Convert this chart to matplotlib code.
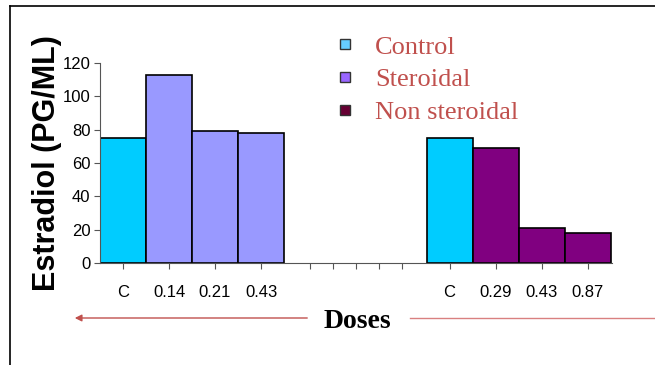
import numpy as np
import matplotlib
matplotlib.use("Agg")
import matplotlib.pyplot as plt
from matplotlib.lines import Line2D
from matplotlib.patches import FancyArrowPatch

# data
ster_labels = ['C', '0.14', '0.21', '0.43']
ster_values = [75, 113, 79, 78]
nonster_labels = ['C', '0.29', '0.43', '0.87']
nonster_values = [75, 69, 21, 18]
legend_labels = ['Control', 'Steroidal', 'Non steroidal']

c_control = '#00CCFF'
c_ster = '#9999FF'
c_nonster = '#800080'

fig = plt.figure(figsize=(6.55, 3.65), dpi=100)
ax = fig.add_axes([100/655, 1-263/365, 512/655, 200/365])

x_left = np.arange(4)
x_right = np.arange(4) + 7.1
cols_left = [c_control] + [c_ster]*3
cols_right = [c_control] + [c_nonster]*3
ax.bar(x_left, ster_values, width=1.0, color=cols_left, edgecolor='black', linewidth=1.2)
ax.bar(x_right, nonster_values, width=1.0, color=cols_right, edgecolor='black', linewidth=1.2)

ax.set_xlim(-0.5, 10.63)
ax.set_ylim(0, 120)
ax.set_yticks(range(0, 121, 20))
ticks = list(x_left) + [4.07, 4.57, 5.07, 5.57, 6.07] + list(x_right)
labels = ster_labels + [''] * 5 + nonster_labels
ax.set_xticks(ticks)
ax.set_xticklabels(labels)
ax.tick_params(axis='x', length=4, width=0.8, color='#555555', pad=12, labelsize=12)
ax.tick_params(axis='y', length=4, width=0.8, color='#555555', pad=3, labelsize=12)
for lab in ax.get_xticklabels() + ax.get_yticklabels():
    lab.set_fontfamily('Liberation Sans')
for s in ['top', 'right']:
    ax.spines[s].set_visible(False)
ax.spines['left'].set_color('#555555')
ax.spines['bottom'].set_color('#555555')

ax.set_ylabel('Estradiol (PG/ML)', fontsize=22, fontweight='bold', family='Liberation Sans', labelpad=0)

# legend
handles = [Line2D([], [], marker='s', linestyle='none', markersize=7, markerfacecolor=c, markeredgecolor='#333333')
           for c in ['#66CCFF', '#9966FF', '#660033']]
fig.legend(handles, legend_labels, loc='upper left', bbox_to_anchor=(321/655, 1-22/365), frameon=False,
           labelcolor='#C0504D', prop={'family': 'Liberation Serif', 'size': 19},
           handlelength=0.8, handletextpad=0.75, labelspacing=0.35, borderpad=0)

# doses label and arrows
fig.text(357/655, 1-322/365, 'Doses', ha='center', va='center', fontsize=20, fontweight='bold', family='Liberation Serif')
fig.patches.append(FancyArrowPatch((310/655, 1-318/365), (72/655, 1-318/365),
                   transform=fig.transFigure, arrowstyle='-|>', mutation_scale=10, color='#C0504D', lw=1))
fig.add_artist(Line2D([410/655, 1.0], [1-318/365, 1-318/365], transform=fig.transFigure, color='#D98080', lw=1))

# border
fig.add_artist(Line2D([10/655, 10/655], [0, 1-6/365], transform=fig.transFigure, color='black', lw=1.2))
fig.add_artist(Line2D([10/655, 1.0], [1-6/365, 1-6/365], transform=fig.transFigure, color='black', lw=1.2))

fig.savefig('out.png', dpi=100)
